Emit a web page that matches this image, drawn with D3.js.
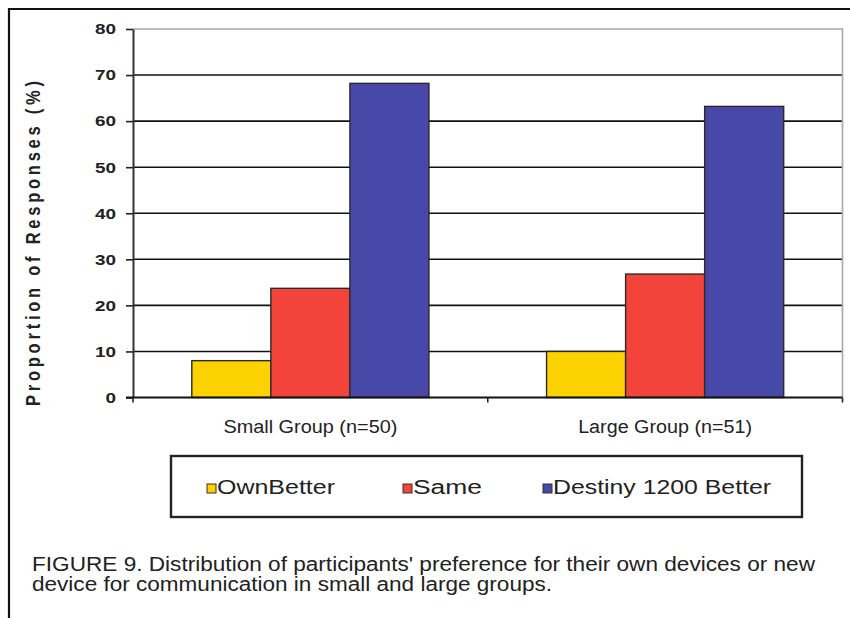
<!DOCTYPE html>
<html>
<head>
<meta charset="utf-8">
<script src="https://cdn.jsdelivr.net/npm/d3@7/dist/d3.min.js"></script>
<style>
  html, body { margin: 0; padding: 0; background: #fff; }
  svg { display: block; }
  text { font-family: "Liberation Sans", Arial, sans-serif; fill: #222; }
</style>
</head>
<body>
<script>
// Chart data
const groups = ["Small Group (n=50)", "Large Group (n=51)"];
const seriesNames = ["Own Better", "Same", "Destiny 1200 Better"];
const legendLabels = ["OwnBetter", "Same", "Destiny 1200 Better"];
const ownBetter = [8, 10];
const same = [23.7, 26.8];
const destiny = [68.2, 63.2];
const yTicks = [0, 10, 20, 30, 40, 50, 60, 70, 80];
const seriesColors = ["#fcd300", "#f2443a", "#4848a8"];
const captionLines = [
  "FIGURE 9. Distribution of participants' preference for their own devices or new",
  "device for communication in small and large groups."
];

const seriesValues = [ownBetter, same, destiny];
const rows = groups.map((g, gi) => ({
  group: g,
  values: seriesNames.map((s, si) => ({ series: s, value: seriesValues[si][gi] }))
}));

const W = 850, H = 618;
const plot = { left: 133, right: 842.5, top: 29, bottom: 397.5 };

const svg = d3.select("body").append("svg").attr("width", W).attr("height", H);
svg.append("rect").attr("width", W).attr("height", H).attr("fill", "#fff");

// Figure frame (open to the right and bottom)
svg.append("path")
  .attr("d", `M9,${H} V9 H${W}`)
  .attr("fill", "none").attr("stroke", "#111").attr("stroke-width", 2.2);

const x0 = d3.scaleBand().domain(groups).range([plot.left, plot.right]).padding(0);
const x1 = d3.scaleBand().domain(seriesNames).range([0, x0.bandwidth()])
  .paddingInner(0).paddingOuter(0.744);
const y = d3.scaleLinear().domain([0, 80]).range([plot.bottom, plot.top]);
const color = d3.scaleOrdinal().domain(seriesNames).range(seriesColors);

// Horizontal gridlines
svg.append("g").selectAll("line")
  .data(yTicks.filter(t => t > 0 && t < 80))
  .join("line")
  .attr("x1", plot.left).attr("x2", plot.right)
  .attr("y1", d => y(d)).attr("y2", d => y(d))
  .attr("stroke", "#111").attr("stroke-width", 1.6);

// Plot-area border (top and right)
svg.append("path")
  .attr("d", `M${plot.left},${y(80)} H${plot.right} V${plot.bottom}`)
  .attr("fill", "none").attr("stroke", "#a8a8a8").attr("stroke-width", 1.6);

// Bars
svg.append("g").selectAll("g")
  .data(rows)
  .join("g")
  .attr("transform", d => `translate(${x0(d.group)},0)`)
  .selectAll("rect")
  .data(d => d.values)
  .join("rect")
  .attr("x", d => x1(d.series))
  .attr("width", x1.bandwidth())
  .attr("y", d => y(d.value))
  .attr("height", d => y(0) - y(d.value))
  .attr("fill", d => color(d.series))
  .attr("stroke", "#2a2a2a").attr("stroke-width", 1.4);

// Y axis
const yAxis = svg.append("g")
  .attr("transform", `translate(${plot.left},0)`)
  .call(d3.axisLeft(y).tickValues(yTicks).tickSize(7).tickPadding(10).tickSizeOuter(0));
yAxis.select(".domain").attr("stroke", "#333").attr("stroke-width", 2);
yAxis.selectAll(".tick line").attr("stroke", "#222").attr("stroke-width", 1.6);
yAxis.selectAll(".tick text")
  .attr("font-family", "'Liberation Sans', Arial, sans-serif")
  .attr("font-size", 15).attr("font-weight", "bold")
  .attr("fill", "#222")
  .attr("textLength", d => d >= 10 ? 21 : 10.5)
  .attr("lengthAdjust", "spacingAndGlyphs");

// X axis
const xAxis = svg.append("g")
  .attr("transform", `translate(0,${plot.bottom})`)
  .call(d3.axisBottom(x0).tickValues([]).tickSizeOuter(0));
xAxis.select(".domain").remove();
svg.append("line")
  .attr("x1", plot.left - 7).attr("x2", plot.right)
  .attr("y1", plot.bottom).attr("y2", plot.bottom)
  .attr("stroke", "#111").attr("stroke-width", 2);
// Category separators below the axis
svg.append("g").selectAll("line")
  .data([...groups.map(g => x0(g)), plot.right])
  .join("line")
  .attr("x1", d => d).attr("x2", d => d)
  .attr("y1", plot.bottom).attr("y2", plot.bottom + 5)
  .attr("stroke", "#222").attr("stroke-width", 1.6);

// Category labels
svg.append("g").selectAll("text")
  .data(groups)
  .join("text")
  .attr("x", d => x0(d) + x0.bandwidth() / 2)
  .attr("y", 433)
  .attr("text-anchor", "middle")
  .attr("font-size", 18)
  .attr("textLength", 174)
  .attr("lengthAdjust", "spacingAndGlyphs")
  .text(d => d);

// Y axis title
svg.append("g")
  .attr("transform", "translate(33,243.5) scale(1.22,1) rotate(-90)")
  .append("text")
  .attr("text-anchor", "middle")
  .attr("dy", "0.35em")
  .attr("font-size", 16.5)
  .attr("font-weight", "bold")
  .attr("textLength", 325)
  .attr("lengthAdjust", "spacing")
  .text("Proportion of Responses (%)");

// Legend
const legend = svg.append("g");
legend.append("rect")
  .attr("x", 171).attr("y", 456).attr("width", 631).attr("height", 61)
  .attr("fill", "#fff").attr("stroke", "#222").attr("stroke-width", 2.4);
const legendX = [207, 403, 543];
const legendW = [118, 69, 218];
const item = legend.selectAll("g.item")
  .data(seriesNames)
  .join("g").attr("class", "item")
  .attr("transform", (d, i) => `translate(${legendX[i]},0)`);
item.append("rect")
  .attr("x", 0).attr("y", 484).attr("width", 9).attr("height", 9)
  .attr("fill", d => color(d)).attr("stroke", "#333").attr("stroke-width", 1);
item.append("text")
  .attr("x", 10).attr("y", 494)
  .attr("font-size", 19.5)
  .attr("textLength", (d, i) => legendW[i])
  .attr("lengthAdjust", "spacingAndGlyphs")
  .text((d, i) => legendLabels[i]);

// Caption
svg.append("g").selectAll("text")
  .data(captionLines)
  .join("text")
  .attr("x", 32)
  .attr("y", (d, i) => 571 + i * 20)
  .attr("font-size", 19.5)
  .attr("textLength", (d, i) => i === 0 ? 783 : 520)
  .attr("lengthAdjust", "spacingAndGlyphs")
  .text(d => d);
</script>
</body>
</html>
